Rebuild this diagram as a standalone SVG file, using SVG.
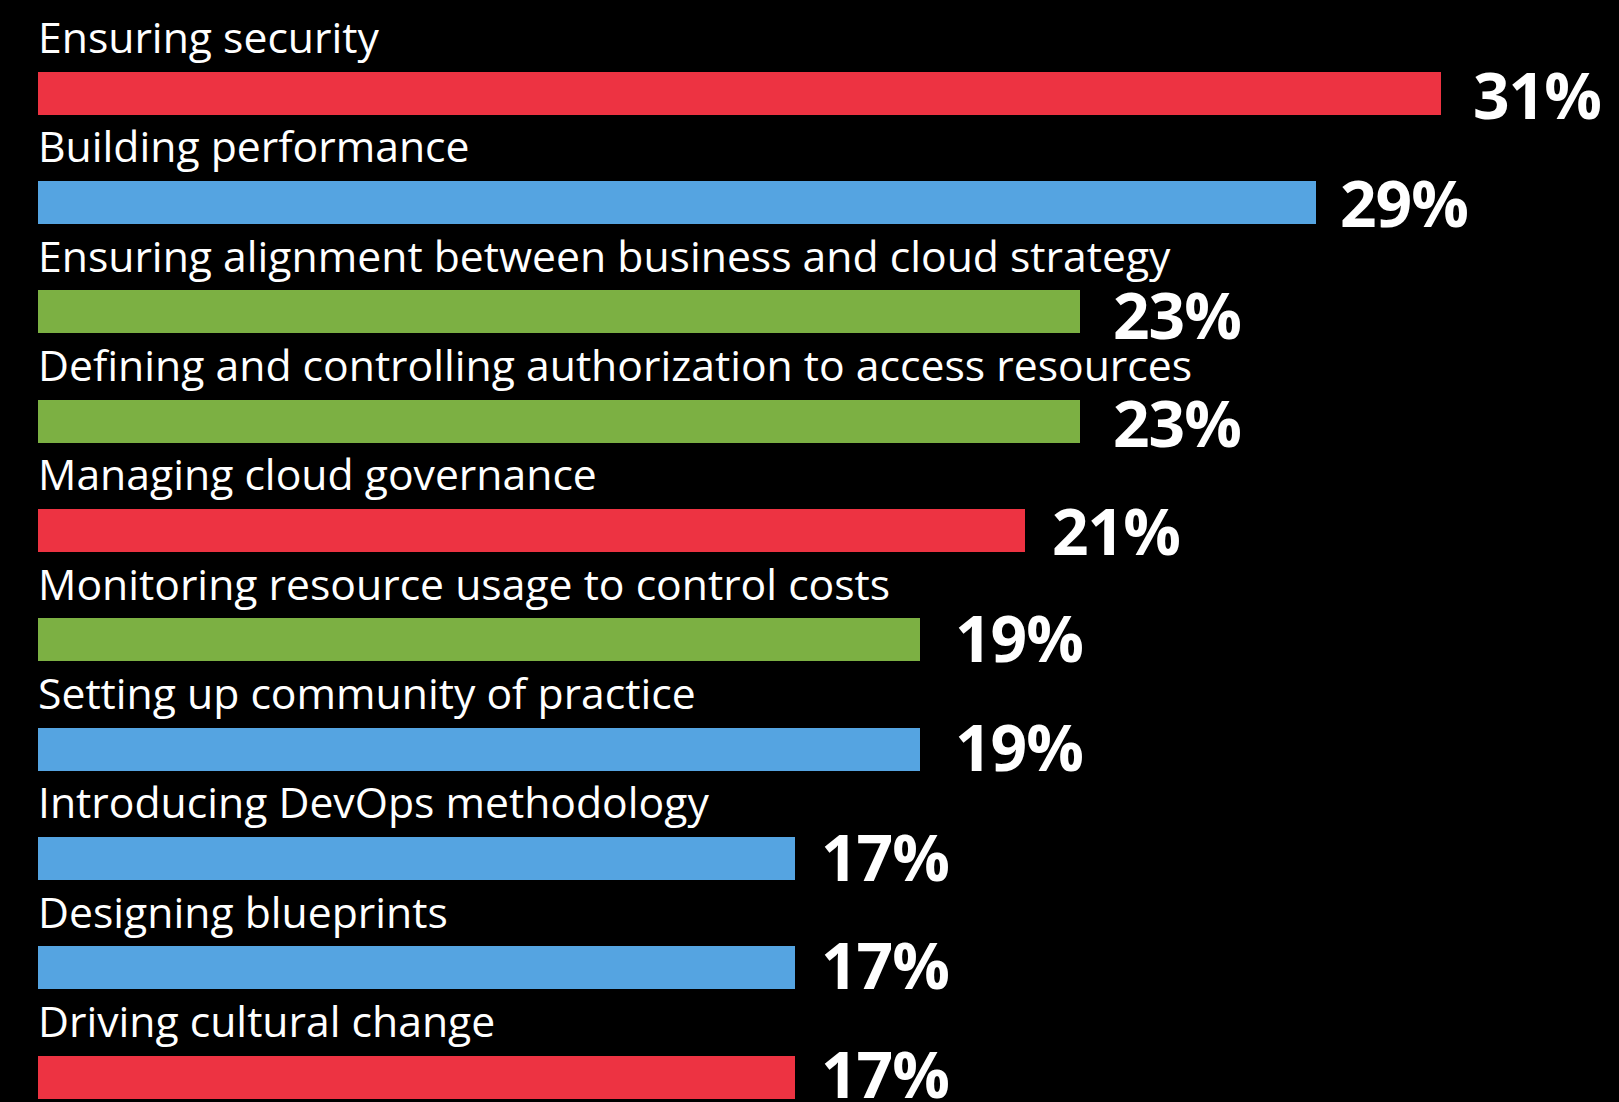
<svg xmlns="http://www.w3.org/2000/svg" width="1619" height="1102" viewBox="0 0 1619 1102">
<style>
.lbl{font-family:"Open Sans","Liberation Sans",sans-serif;font-size:42.7px;fill:#ffffff}
.pct{font-family:"Open Sans","Liberation Sans",sans-serif;font-size:64px;font-weight:700;letter-spacing:-1px;fill:#ffffff}
.red{fill:#ED3342}
.blue{fill:#55A4E1}
.green{fill:#7CB043}
</style>
<rect x="0" y="0" width="1619" height="1102" fill="#000000"/>
<g id="row1"><text class="lbl" x="38" y="53">Ensuring security</text><rect class="red" x="38" y="72" width="1403" height="43"/><text class="pct" x="1473" y="119">31%</text></g>
<g id="row2"><text class="lbl" x="38" y="162">Building performance</text><rect class="blue" x="38" y="181" width="1278" height="43"/><text class="pct" x="1340" y="227">29%</text></g>
<g id="row3"><text class="lbl" x="38" y="272">Ensuring alignment between business and cloud strategy</text><rect class="green" x="38" y="290" width="1042" height="43"/><text class="pct" x="1113" y="339">23%</text></g>
<g id="row4"><text class="lbl" x="38" y="381">Defining and controlling authorization to access resources</text><rect class="green" x="38" y="400" width="1042" height="43"/><text class="pct" x="1113" y="447">23%</text></g>
<g id="row5"><text class="lbl" x="38" y="490">Managing cloud governance</text><rect class="red" x="38" y="509" width="987" height="43"/><text class="pct" x="1052" y="555">21%</text></g>
<g id="row6"><text class="lbl" x="38" y="600">Monitoring resource usage to control costs</text><rect class="green" x="38" y="618" width="882" height="43"/><text class="pct" x="955" y="662">19%</text></g>
<g id="row7"><text class="lbl" x="38" y="709">Setting up community of practice</text><rect class="blue" x="38" y="728" width="882" height="43"/><text class="pct" x="955" y="771">19%</text></g>
<g id="row8"><text class="lbl" x="38" y="818">Introducing DevOps methodology</text><rect class="blue" x="38" y="837" width="757" height="43"/><text class="pct" x="821" y="881">17%</text></g>
<g id="row9"><text class="lbl" x="38" y="928">Designing blueprints</text><rect class="blue" x="38" y="946" width="757" height="43"/><text class="pct" x="821" y="989">17%</text></g>
<g id="row10"><text class="lbl" x="38" y="1037">Driving cultural change</text><rect class="red" x="38" y="1056" width="757" height="43"/><text class="pct" x="821" y="1098">17%</text></g>
</svg>
